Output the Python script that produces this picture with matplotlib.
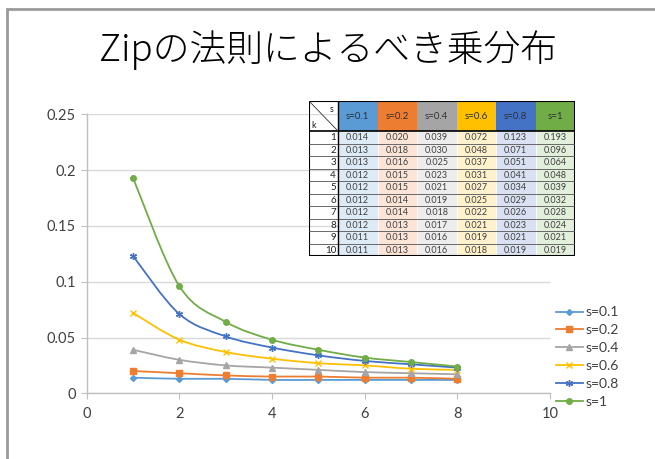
import numpy as np
import matplotlib.pyplot as plt
from matplotlib.path import Path
from matplotlib.patches import PathPatch, Rectangle
from matplotlib.lines import Line2D

plt.rcParams['font.family'] = ['Lato', 'Noto Sans CJK JP', 'DejaVu Sans']

# Zipf distribution values p(k) for each exponent s
k_vals = [1, 2, 3, 4, 5, 6, 7, 8, 9, 10]
s_labels = ['s=0.1', 's=0.2', 's=0.4', 's=0.6', 's=0.8', 's=1']
s01 = [0.014, 0.013, 0.013, 0.012, 0.012, 0.012, 0.012, 0.012, 0.011, 0.011]
s02 = [0.020, 0.018, 0.016, 0.015, 0.015, 0.014, 0.014, 0.013, 0.013, 0.013]
s04 = [0.039, 0.030, 0.025, 0.023, 0.021, 0.019, 0.018, 0.017, 0.016, 0.016]
s06 = [0.072, 0.048, 0.037, 0.031, 0.027, 0.025, 0.022, 0.021, 0.019, 0.018]
s08 = [0.123, 0.071, 0.051, 0.041, 0.034, 0.029, 0.026, 0.023, 0.021, 0.019]
s10 = [0.193, 0.096, 0.064, 0.048, 0.039, 0.032, 0.028, 0.024, 0.021, 0.019]
series = [s01, s02, s04, s06, s08, s10]
n_plot = 8  # only k = 1..8 are charted

colors = ['#5B9BD5', '#ED7D31', '#A5A5A5', '#FFC000', '#4472C4', '#70AD47']
tints = ['#DDEBF7', '#FCE4D6', '#EDEDED', '#FFF2CC', '#D9E1F2', '#E2EFDA']
markers = ['D', 's', '^', 'x', (6, 2, 0), 'o']
msizes = [3, 4, 4, 4.5, 5, 4]

W, H = 655, 459
fig = plt.figure(figsize=(W / 100, H / 100), dpi=100)


def px_axes(x0, y0, x1, y1):
    return fig.add_axes([x0 / W, 1 - y1 / H, (x1 - x0) / W, (y1 - y0) / H])


# slide frame
frame = fig.add_axes([0, 0, 1, 1])
frame.set_xlim(0, W)
frame.set_ylim(H, 0)
frame.axis('off')
frame.plot([7, 7, W], [H, 9, 9], color='#9A9A9A', lw=2, solid_joinstyle='miter')

fig.text(328 / W, 1 - 50 / H, 'Zipの法則によるべき乗分布', ha='center', va='center',
         fontsize=26.5, family=['Noto Sans CJK JP', 'DejaVu Sans'], fontweight='light')

ax = px_axes(86.7, 114.3, 550, 393.3)
ax.set_xlim(0, 10)
ax.set_ylim(0, 0.25)
ax.set_xticks([0, 2, 4, 6, 8, 10])
ax.set_yticks([0, 0.05, 0.1, 0.15, 0.2, 0.25])
ax.set_yticklabels(['0', '0.05', '0.1', '0.15', '0.2', '0.25'])
ax.grid(axis='y', color='#D9D9D9', lw=1)
ax.set_axisbelow(True)
for side in ['top', 'right']:
    ax.spines[side].set_visible(False)
for side in ['left', 'bottom']:
    ax.spines[side].set_color('#BFBFBF')
    ax.spines[side].set_linewidth(1)
ax.tick_params(length=4, color='#BFBFBF', labelsize=10.5, labelcolor='#404040', pad=4)
ax.tick_params(axis='x', pad=6)


def smooth_path(xs, ys):
    # cubic Bezier segments through each point (Catmull-Rom style handles)
    pts = np.column_stack([xs, ys]).astype(float)
    n = len(pts)
    verts = [pts[0]]
    codes = [Path.MOVETO]
    for i in range(n - 1):
        p0 = pts[i - 1] if i > 0 else pts[i]
        p1, p2 = pts[i], pts[i + 1]
        p3 = pts[i + 2] if i + 2 < n else pts[i + 1]
        verts += [p1 + (p2 - p0) / 6, p2 - (p3 - p1) / 6, p2]
        codes += [Path.CURVE4] * 3
    return Path(verts, codes)


handles = []
for vals, c, m, ms, lab in zip(series, colors, markers, msizes, s_labels):
    xs = k_vals[:n_plot]
    ys = vals[:n_plot]
    ax.add_patch(PathPatch(smooth_path(xs, ys), fill=False, edgecolor=c, lw=1.3))
    ax.plot(xs, ys, ls='none', marker=m, ms=ms, color=c, mec=c, mew=1.0)
    handles.append(Line2D([], [], color=c, lw=1.3, marker=m, ms=ms, mec=c, mew=1.0, label=lab))

fig.legend(handles=handles, loc='upper left', bbox_to_anchor=(543 / W, 1 - 294 / H),
           frameon=False, fontsize=10, handlelength=2.0, handletextpad=0.15,
           labelspacing=0.42, labelcolor='#404040')

# value table
col_w = [29] + [39.5] * 6
row_h = [30] + [12.5] * 10
tab = px_axes(309, 101, 309 + sum(col_w), 101 + sum(row_h))
tab.set_xlim(0, sum(col_w))
tab.set_ylim(sum(row_h), 0)
tab.axis('off')
xe = np.concatenate([[0], np.cumsum(col_w)])
ye = np.concatenate([[0], np.cumsum(row_h)])

for j in range(6):
    x0 = xe[j + 1]
    tab.add_patch(Rectangle((x0, 0), col_w[j + 1], row_h[0], fc=colors[j], ec='none'))
    tab.text(x0 + col_w[j + 1] / 2, row_h[0] / 2, s_labels[j], ha='center', va='center',
             fontsize=7, color='#303030')
    for i in range(10):
        tab.add_patch(Rectangle((x0, ye[i + 1]), col_w[j + 1], row_h[i + 1],
                                fc=tints[j], ec='white', lw=0.5))
        tab.text(x0 + col_w[j + 1] / 2, ye[i + 1] + row_h[i + 1] / 2 + 0.5,
                 '%.3f' % series[j][i], ha='center', va='center', fontsize=6.5, color='#404040')

for i in range(10):
    tab.text(col_w[0] - 2, ye[i + 1] + row_h[i + 1] / 2 + 0.5, str(k_vals[i]),
             ha='right', va='center', fontsize=7, color='#202020')
for y in ye[2:-1]:
    tab.plot([0, xe[-1]], [y, y], color='#505050', lw=0.6)
tab.plot([0, xe[-1]], [ye[1], ye[1]], color='black', lw=1.2)
tab.plot([xe[1], xe[1]], [0, ye[-1]], color='black', lw=1.0)
tab.plot([0, col_w[0]], [0, row_h[0]], color='#303030', lw=0.6)
tab.text(col_w[0] - 4, 8, 's', ha='right', va='center', fontsize=6.5, color='#202020')
tab.text(2, row_h[0] - 6, 'k', ha='left', va='center', fontsize=6.5, color='#202020')
tab.add_patch(Rectangle((0, 0), xe[-1], ye[-1], fill=False, ec='black', lw=1.5))

fig.savefig('out.png', dpi=100)
